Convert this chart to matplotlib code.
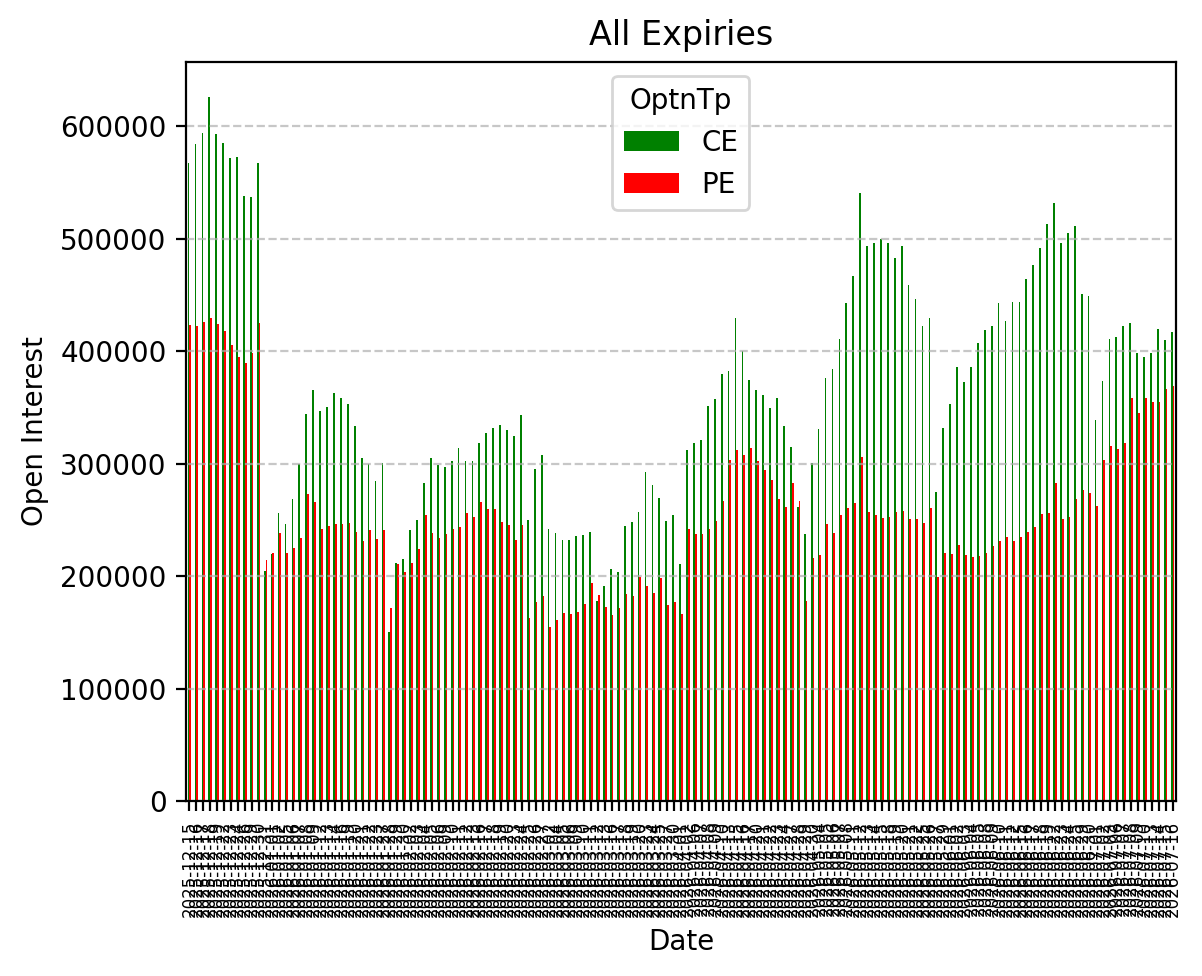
import matplotlib
matplotlib.use("Agg")
import matplotlib.pyplot as plt
import pandas as pd

holidays = ["2025-12-25", "2026-01-26", "2026-03-03", "2026-03-26", "2026-03-31",
            "2026-04-03", "2026-04-14", "2026-05-01", "2026-05-28", "2026-06-26",
            "2026-01-15"]
all_days = pd.bdate_range("2025-12-15", "2026-07-16")
dates = [d.strftime("%Y-%m-%d") for d in all_days if d.strftime("%Y-%m-%d") not in holidays]

ce = [567600, 583800, 593700, 625700, 592700, 585400, 571700, 572400, 537500, 536800,
      567600, 204100, 219400, 255900, 246000, 268300, 299400, 343800, 365100, 346300,
      350200, 362500, 358100, 352700, 333000, 304800, 299400, 284100, 300300, 149800,
      211400, 214900, 240600, 249500, 282500, 304800, 298400, 296500, 301900, 313700,
      301900, 301900, 318700, 327000, 331400, 334000, 329500, 324100, 342900, 249500,
      294900, 307300, 241600, 238100, 231700, 231700, 235200, 236200, 238700, 177500,
      190800, 206000, 203200, 244100, 247600, 256500, 292100, 280600, 269200, 248600,
      254000, 210500, 311700, 318100, 320600, 350800, 357100, 379400, 381900, 429800,
      399700, 374000, 365100, 360600, 349800, 358100, 333000, 314300, 261000, 237100,
      300300, 330500, 375900, 383800, 410500, 442500, 466300, 540300, 493000, 495900,
      499700, 495900, 482500, 493000, 458400, 446000, 421900, 429800, 274300, 331400,
      352700, 385400, 372100, 385400, 407000, 418400, 421900, 442500, 426300, 443200,
      443200, 463800, 476200, 491400, 512700, 531400, 495900, 504800, 510800, 450500,
      448600, 338400, 373000, 410500, 412100, 421900, 424800, 398100, 394300, 398700,
      419400, 409500, 416500]
pe = [422900, 421900, 425400, 429500, 423800, 417500, 405100, 394300, 389200, 398100,
      424800, 214000, 220300, 238100, 220300, 224800, 233700, 272700, 265400, 241600,
      244100, 246000, 246000, 247000, 238700, 230800, 240600, 232700, 240600, 171400,
      210500, 203200, 211400, 223800, 254000, 238100, 233700, 237100, 241600, 243200,
      255900, 252100, 265400, 259400, 259400, 247600, 245100, 231700, 245100, 162500,
      176500, 181900, 154300, 160600, 167000, 166000, 167600, 174900, 193700, 182900,
      172100, 165100, 171400, 183800, 181900, 198700, 190800, 184800, 198100, 174000,
      176500, 166000, 241600, 237100, 237100, 241600, 248600, 266300, 302900, 311700,
      307300, 313700, 301900, 294000, 285100, 268300, 261000, 282500, 266300, 177500,
      215900, 218400, 246000, 238100, 254000, 260300, 264800, 305400, 256500, 254000,
      251400, 252100, 256500, 257500, 250500, 250500, 247000, 260300, 198700, 220300,
      219400, 227300, 218400, 216500, 217500, 220300, 226300, 230800, 234300, 230800,
      234300, 238700, 243200, 254900, 255900, 282500, 250500, 252100, 268300, 276200,
      273700, 261900, 302900, 315200, 312700, 318700, 358700, 344800, 358700, 354300,
      354300, 366000, 368600]

df = pd.DataFrame({"CE": ce, "PE": pe}, index=pd.Index(dates, name="Date"))
df.columns.name = "OptnTp"

fig = plt.figure(figsize=(6.01, 4.88), dpi=200)
ax = fig.add_axes([0.1547, 0.1793, 0.8237, 0.7572])
df.plot(kind="bar", ax=ax, color=["green", "red"])
ax.set_title("All Expiries")
ax.set_ylabel("Open Interest")
ax.set_xlabel("Date")
ax.tick_params(axis="x", labelsize=6, rotation=90)
ax.grid(axis="y", linestyle="--", alpha=0.7)
ax.legend(title="OptnTp", loc="upper center")
fig.savefig("out.png", dpi=200)
